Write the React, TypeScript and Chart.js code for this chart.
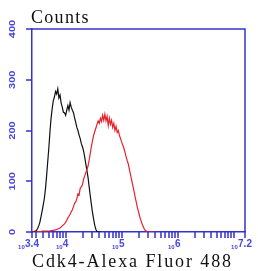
import React, { useEffect, useRef } from "react";
import { Chart, registerables } from "chart.js";

Chart.register(...registerables);

// log10 fluorescence bins
const xLog = [3.40,3.42,3.44,3.46,3.48,3.50,3.52,3.54,3.56,3.58,3.60,3.62,3.64,3.66,3.68,3.70,3.72,3.74,3.76,3.78,3.80,3.82,3.84,3.86,3.88,3.90,3.92,3.94,3.96,3.98,4.00,4.02,4.04,4.06,4.08,4.10,4.12,4.14,4.16,4.18,4.20,4.22,4.24,4.26,4.28,4.30,4.32,4.34,4.36,4.38,4.40,4.42,4.44,4.46,4.48,4.50,4.52,4.54,4.56,4.58,4.60,4.62,4.64,4.66,4.68,4.70,4.72,4.74,4.76,4.78,4.80,4.82,4.84,4.86,4.88,4.90,4.92,4.94,4.96,4.98,5.00,5.02,5.04,5.06,5.08,5.10,5.12,5.14,5.16,5.18,5.20,5.22,5.24,5.26,5.28,5.30,5.32,5.34,5.36,5.38,5.40,5.42,5.44,5.46,5.48,5.50,5.52,5.54,5.56,5.58,5.60];

// control (black)
const controlCounts = [0,0,1,2,3,7,12,19,30,41,53,66,85,110,138,165,197,224,243,259,266,277,272,282,264,270,254,246,236,235,230,240,249,240,255,246,240,235,225,216,206,200,191,184,174,168,160,148,134,121,107,89,71,54,38,25,13,5,1,0,0,0,0];

// Cdk4 stained (red)
const cdk4Counts = [0,0,0,0,0,1,1,1,1,2,2,2,2,2,2,2,2,3,3,3,4,4,5,6,7,8,10,12,14,16,19,23,28,31,35,40,44,50,57,59,66,75,73,86,89,93,104,110,117,123,130,142,155,169,180,191,198,205,212,219,214,224,218,230,220,232,219,228,210,224,212,220,206,214,200,208,196,200,190,184,177,171,165,157,148,140,133,122,112,101,91,80,69,59,48,40,31,24,17,12,7,3,2,0,0,0,0,0,0,0,0];

const yTicks = [0, 100, 200, 300, 400];
const xLabels: [number, string][] = [[3.4, "3.4"], [4, "4"], [5, "5"], [6, "6"], [7.2, "7.2"]];
const xMin = 3.4;
const xMax = 7.2;

const BLUE = "#3333cc";
const LABEL_BLUE = "#4646dd";

function minorTicks(): number[] {
  const out: number[] = [xMin];
  for (let d = 3; d <= 7; d++) {
    for (let k = 1; k <= 9; k++) {
      const v = Math.log10(k * Math.pow(10, d));
      if (v > xMin + 1e-6 && v <= xMax + 1e-6) out.push(v);
    }
  }
  out.push(xMax);
  return out;
}

const decor = {
  id: "decor",
  afterDraw(chart: any) {
    const { ctx, chartArea: ca, scales } = chart;
    const x = scales.x;
    const y = scales.y;
    ctx.save();
    ctx.strokeStyle = BLUE;
    ctx.lineWidth = 1.5;
    ctx.beginPath();
    ctx.moveTo(ca.left, ca.top);
    ctx.lineTo(ca.right, ca.top);
    ctx.lineTo(ca.right, ca.bottom);
    ctx.stroke();

    // tick marks
    ctx.fillStyle = BLUE;
    for (const v of minorTicks()) {
      const px = Math.round(x.getPixelForValue(v));
      ctx.fillRect(px - 0.75, ca.bottom, 1.5, 6);
    }
    for (const v of yTicks) {
      const py = Math.round(y.getPixelForValue(v));
      ctx.fillRect(ca.left - 6, py - 0.75, 6, 1.5);
    }

    ctx.fillStyle = LABEL_BLUE;
    for (const v of yTicks) {
      const py = y.getPixelForValue(v);
      ctx.save();
      ctx.translate(ca.left - 20, py);
      ctx.rotate(-Math.PI / 2);
      ctx.scale(1.0, 0.85);
      ctx.font = "bold 11px Arial, 'Liberation Sans', sans-serif";
      ctx.textAlign = "center";
      ctx.textBaseline = "middle";
      ctx.fillText(String(v), 0, 0);
      ctx.restore();
    }

    for (const [v, txt] of xLabels) {
      const px = x.getPixelForValue(v);
      ctx.font = "bold 10px Arial, 'Liberation Sans', sans-serif";
      ctx.textAlign = "left";
      ctx.textBaseline = "alphabetic";
      const w = ctx.measureText(txt).width;
      ctx.fillText(txt, px - w / 2, ca.bottom + 15);
      ctx.font = "bold 6px Arial, 'Liberation Sans', sans-serif";
      const w2 = ctx.measureText("10").width;
      ctx.fillText("10", px - w / 2 - w2 - 0.3, ca.bottom + 17);
    }

    ctx.fillStyle = "#111";
    ctx.font = "18px 'Liberation Serif', serif";
    ctx.textAlign = "left";
    ctx.textBaseline = "alphabetic";
    (ctx as any).letterSpacing = "1.3px";
    ctx.fillText("Counts", ca.left - 1, ca.top - 6);
    (ctx as any).letterSpacing = "1.9px";
    ctx.fillText("Cdk4-Alexa Fluor 488", ca.left, ca.bottom + 35);
    (ctx as any).letterSpacing = "0px";
    ctx.restore();
  },
};

export default function App() {
  const ref = useRef<HTMLCanvasElement>(null);
  useEffect(() => {
    document.body.style.margin = "0";
    if (!ref.current) return;
    const chart = new Chart(ref.current, {
      type: "line",
      data: {
        datasets: [
          {
            label: "Cdk4",
            data: cdk4Counts.map((c, i) => ({ x: xLog[i], y: c })),
            borderColor: "#e8202a",
            borderWidth: 1.2,
            pointRadius: 0,
            tension: 0,
          },
          {
            label: "Control",
            data: controlCounts.map((c, i) => ({ x: xLog[i], y: c })),
            borderColor: "#111111",
            borderWidth: 1.2,
            pointRadius: 0,
            tension: 0,
          },
        ],
      },
      options: {
        responsive: false,
        animation: false,
        devicePixelRatio: 1,
        layout: { padding: { left: 27, right: 13, top: 29, bottom: 34 } },
        plugins: { legend: { display: false }, tooltip: { enabled: false }, title: { display: false } },
        scales: {
          x: {
            type: "linear",
            min: xMin,
            max: xMax,
            afterFit: (s: any) => {
              s.height = 5;
            },
            ticks: { display: false },
            grid: { display: false },
            border: { display: true, color: BLUE, width: 1.5 },
          },
          y: {
            min: 0,
            max: 400,
            afterFit: (s: any) => {
              s.width = 5;
            },
            ticks: { display: false },
            grid: { display: false },
            border: { display: true, color: BLUE, width: 1.5 },
          },
        },
      },
      plugins: [decor],
    });
    return () => chart.destroy();
  }, []);
  return <canvas ref={ref} width={258} height={271} style={{ display: "block", width: 258, height: 271 }} />;
}
